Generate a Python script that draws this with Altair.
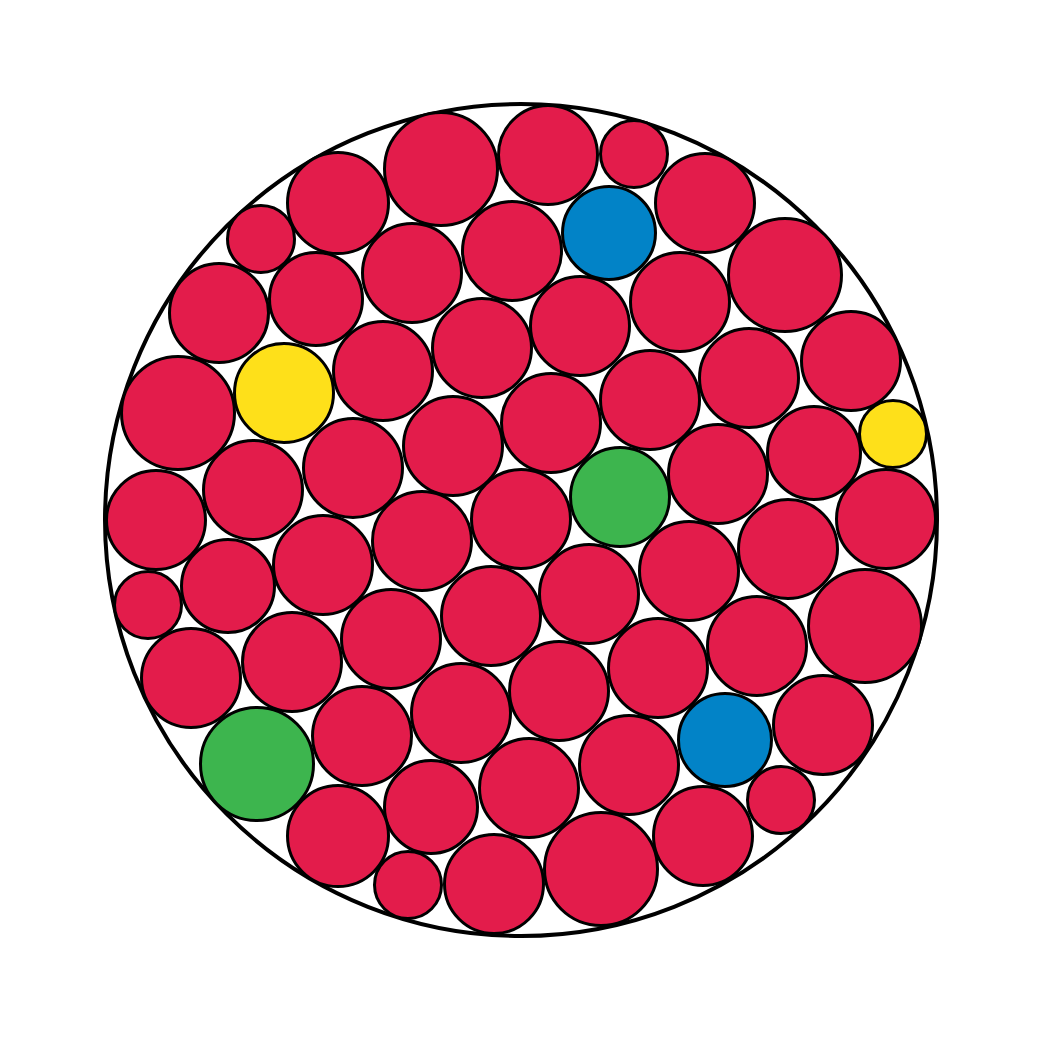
import altair as alt
import pandas as pd

# circle centers (page pixels), radii (to stroke centre) and colour groups
cx = [441, 548, 634, 338, 705, 609, 261, 512, 412, 785,
      219, 316, 680, 580, 482, 851, 383, 284, 749, 650,
      178, 551, 893, 814, 453, 353, 718, 253, 620, 156,
      886, 521, 788, 422, 323, 689, 228, 148, 589, 865,
      491, 391, 757, 292, 658, 191, 559, 461, 823, 362,
      725, 629, 257, 529, 431, 781, 338, 703, 601, 494, 408]
cy = [169, 155, 154, 203, 203, 233, 239, 251, 273, 275,
      313, 299, 302, 326, 348, 361, 371, 393, 378, 400,
      413, 423, 434, 453, 446, 468, 474, 490, 497, 520,
      519, 519, 549, 541, 565, 571, 586, 605, 594, 626,
      616, 639, 646, 662, 668, 678, 691, 713, 725, 736,
      740, 765, 764, 788, 807, 800, 836, 836, 869, 884, 885]
radius = [56.5, 49.5, 33.5, 50.5, 49.5, 46.5, 33.5, 49.5, 49.5, 56.5,
          49.5, 46.5, 49.5, 49.5, 49.5, 49.5, 49.5, 49.5, 49.5, 49.5,
          56.5, 49.5, 33.5, 46.5, 49.5, 49.5, 49.5, 49.5, 49.5, 49.5,
          49.5, 49.5, 49.5, 49.5, 49.5, 49.5, 46.5, 33.5, 49.5, 56.5,
          49.5, 49.5, 49.5, 49.5, 49.5, 49.5, 49.5, 49.5, 49.5, 49.5,
          46.5, 49.5, 56.5, 49.5, 46.5, 33.5, 50.5, 49.5, 56.5, 49.5, 33.5]
group = ["red"] * len(cx)
group[5] = "blue"
group[50] = "blue"
group[17] = "yellow"
group[22] = "yellow"
group[28] = "green"
group[52] = "green"

outer_cx = [521]
outer_cy = [520]
outer_r = [416]

groups = ["red", "blue", "yellow", "green"]
colors = ["#E31C4B", "#0283C7", "#FEE01A", "#3DB54E"]

# Vega's circle symbol has radius sqrt(size)/2, so size = (2r)^2
df = pd.DataFrame({"x": cx, "y": cy, "r": radius, "g": group})
df["size"] = [(2 * r) ** 2 for r in df["r"]]
outer = pd.DataFrame({"x": outer_cx, "y": outer_cy, "r": outer_r})
outer["size"] = [(2 * r) ** 2 for r in outer["r"]]

xs = alt.Scale(domain=[8, 1033])
ys = alt.Scale(domain=[8, 1033], reverse=True)

ring = alt.Chart(outer).mark_point(
    shape="circle", filled=False, stroke="black", strokeWidth=4, opacity=1
).encode(
    x=alt.X("x:Q", scale=xs, axis=None),
    y=alt.Y("y:Q", scale=ys, axis=None),
    size=alt.Size("size:Q", scale=None, legend=None),
)

dots = alt.Chart(df).mark_circle(
    stroke="black", strokeWidth=3, opacity=1
).encode(
    x=alt.X("x:Q", scale=xs, axis=None),
    y=alt.Y("y:Q", scale=ys, axis=None),
    size=alt.Size("size:Q", scale=None, legend=None),
    color=alt.Color("g:N", scale=alt.Scale(domain=groups, range=colors), legend=None),
)

chart = alt.layer(ring, dots).properties(
    width=1025, height=1025, padding=0, autosize=alt.AutoSizeParams(type="none")
).configure_view(stroke=None)

chart.save("out.html", embed_options={"renderer": "svg", "actions": False})
